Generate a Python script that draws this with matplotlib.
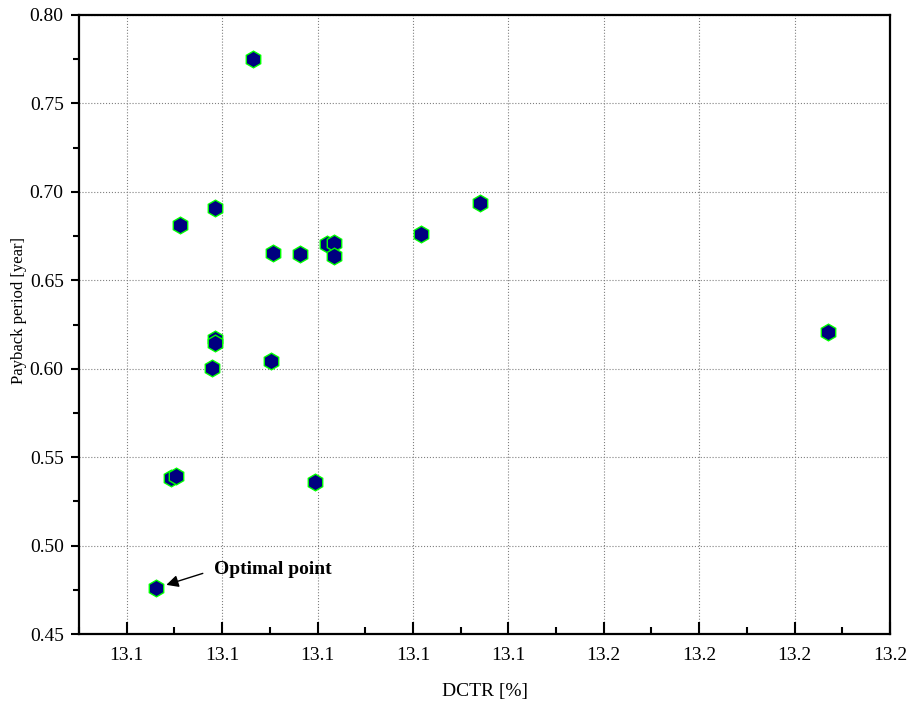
import matplotlib
matplotlib.use("Agg")
import matplotlib.pyplot as plt
from matplotlib.ticker import MultipleLocator, FixedLocator, FixedFormatter

""" data read off the reference """
dctr = [13.12321, 13.11556, 13.11922, 13.12530, 13.12813, 13.13096, 13.13170,
        13.13170, 13.14082, 13.14700, 13.18348, 13.11922, 13.11922, 13.11891,
        13.12509, 13.11461, 13.11514, 13.12971, 13.11304]
payback = [0.7751, 0.6812, 0.6908, 0.6654, 0.6648, 0.6705, 0.6710,
           0.6637, 0.6761, 0.6937, 0.6207, 0.6167, 0.6145, 0.6003,
           0.6043, 0.5381, 0.5392, 0.5359, 0.4759]
optimal = (13.11304, 0.4759)

xticks = [13.11, 13.12, 13.13, 13.14, 13.15, 13.16, 13.17, 13.18, 13.19]
xticklabels = ["13.1", "13.1", "13.1", "13.1", "13.1", "13.2", "13.2", "13.2", "13.2"]

plt.rcParams["font.family"] = ["Liberation Serif", "DejaVu Serif"]

fig = plt.figure(figsize=(9.11, 7.04), dpi=100)
ax = fig.add_axes([0.0867, 0.0994, 0.8903, 0.8793])

ax.plot(dctr, payback, linestyle="none", marker="h", markersize=12,
        markerfacecolor="#000080", markeredgecolor="#00ff00",
        markeredgewidth=1.0, zorder=3)

""" axes """
ax.set_xlim(13.105, 13.19)
ax.set_ylim(0.45, 0.80)
ax.xaxis.set_major_locator(FixedLocator(xticks))
ax.xaxis.set_major_formatter(FixedFormatter(xticklabels))
ax.xaxis.set_minor_locator(MultipleLocator(0.005))
ax.yaxis.set_major_locator(MultipleLocator(0.05))
ax.yaxis.set_minor_locator(MultipleLocator(0.025))
ax.yaxis.set_major_formatter(matplotlib.ticker.FormatStrFormatter("%.2f"))

ax.tick_params(axis="x", which="major", direction="in", length=9, width=1.5,
               labelsize=14, pad=9)
ax.tick_params(axis="x", which="minor", direction="in", length=5, width=1.5)
ax.tick_params(axis="y", which="major", direction="out", length=6, width=1.5,
               labelsize=14, pad=5)
ax.tick_params(axis="y", which="minor", direction="out", length=4, width=1.5)

for s in ax.spines.values():
    s.set_linewidth(1.6)

ax.grid(True, which="major", linestyle=":", color="#808080", linewidth=0.8)
ax.set_axisbelow(True)

ax.set_xlabel("DCTR [%]", fontsize=14, labelpad=14)
ax.set_ylabel("Payback period [year]", fontsize=12)
ax.yaxis.set_label_coords(-0.064, 0.522)

""" optimal point annotation """
ax.annotate("Optimal point", xy=optimal, xytext=(13.11910, 0.4862),
            fontsize=14, fontweight="bold", va="center", ha="left",
            arrowprops=dict(arrowstyle="-|>", color="black", lw=1.0,
                            mutation_scale=18, shrinkB=8, shrinkA=6,
                            relpos=(0, 0.5)))

fig.savefig("out.png", dpi=100)
